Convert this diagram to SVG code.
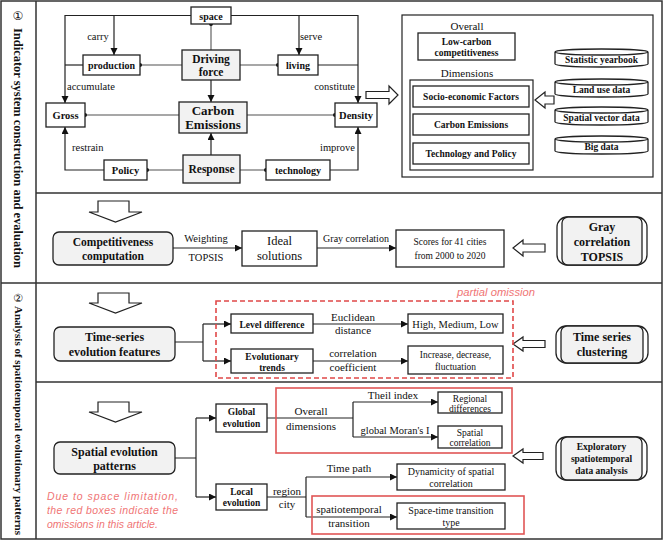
<svg xmlns="http://www.w3.org/2000/svg" width="663" height="540" viewBox="0 0 663 540">
<defs>
<style>
text{font-family:"Liberation Serif","Times New Roman",serif;fill:#111;text-anchor:middle}
.b{font-weight:bold}
.frame{fill:none;stroke:#333;stroke-width:1.5}
.box{fill:#fff;stroke:#222;stroke-width:1.3}
.gbox{fill:#f2f2f2;stroke:#222;stroke-width:1.3}
.ln{fill:none;stroke:#222;stroke-width:1.2}
.gln{fill:none;stroke:#8a8a8a;stroke-width:1.6}
.arr{marker-end:url(#ah)}
.hol{fill:#fff;stroke:#222;stroke-width:1.2}
.red{fill:none;stroke:#e05555;stroke-width:1.6}
.dash{fill:none;stroke:#e04848;stroke-width:1.6;stroke-dasharray:5 3}
.note{font-family:"Liberation Sans",Arial,sans-serif;font-style:italic;fill:#f07575;text-anchor:start}
.dot{fill:#111}
</style>
<marker id="ah" markerUnits="userSpaceOnUse" markerWidth="8" markerHeight="8" refX="7" refY="3.5" orient="auto">
<path d="M0,0 L7,3.5 L0,7 z" fill="#111"/>
</marker>
</defs>
<rect width="663" height="540" fill="#fff"/>
<g id="frame">
<rect class="frame" x="1" y="1" width="661" height="538"/>
<path class="frame" d="M36,1 V539 M36,193 H662 M1,283 H662 M36,382 H662"/>
<text x="18" y="20" style="font-family:'DejaVu Sans',sans-serif" font-size="12">①</text>
<text class="b" transform="translate(13.5,28) rotate(90)" font-size="12.5" style="text-anchor:start" textLength="240" lengthAdjust="spacingAndGlyphs">Indicator system construction and evaluation</text>
<text x="18" y="302" style="font-family:'DejaVu Sans',sans-serif" font-size="11">②</text>
<text class="b" transform="translate(14.5,306) rotate(90)" font-size="10.5" style="text-anchor:start" textLength="229" lengthAdjust="spacingAndGlyphs">Analysis of spatiotemporal evolutionary patterns</text>
</g>
<g id="connectors">
<path class="ln arr" d="M191,15.5 H65 V103"/>
<path class="ln" d="M83,65 H65"/>
<path class="ln arr" d="M114,15.5 V55"/>
<path class="ln arr" d="M231,15.5 H358 V103"/>
<path class="ln arr" d="M299,15.5 V55"/>
<path class="ln" d="M318,65 H358"/>
<path class="gln" d="M182,65 H140 M240,65 H278 M211,24 V50 M179,115 H85 M247,115 H335 M183,170 H147 M240,170 H266"/>
<circle class="dot" cx="140" cy="65" r="2"/><circle class="dot" cx="278" cy="65" r="2"/><circle class="dot" cx="211" cy="24" r="2"/>
<circle class="dot" cx="85" cy="115" r="2"/><circle class="dot" cx="335" cy="115" r="2"/><circle class="dot" cx="147" cy="170" r="2"/><circle class="dot" cx="266" cy="170" r="2"/>
<path class="ln arr" d="M211,80 V102"/>
<path class="ln arr" d="M211,155 V133"/>
<path class="ln arr" d="M104,170 H65 V127"/>
<path class="ln arr" d="M330,170 H358 V127"/>
<polygon class="hol" points="366,91.5 389,91.5 389,86 398,95 389,104 389,98.5 366,98.5"/>
<polygon class="hol" points="535,100 545,92 545,96 554,96 554,104 545,104 545,108"/>
<polygon class="hol" points="98,201 129,201 129,212 142,212 115.5,222 89,212 98,212"/>
<path class="ln arr" d="M173,248 H242"/>
<path class="ln arr" d="M317,248 H396"/>
<polygon class="hol" points="513,248 523,240 523,244 545,244 545,252 523,252 523,256"/>
<polygon class="hol" points="98,293 129,293 129,303 142,303 115.5,313 89,303 98,303"/>
<path class="ln" d="M175,342 H203 M203,324 V361"/>
<path class="ln arr" d="M203,324 H231"/>
<path class="ln arr" d="M203,361 H231"/>
<path class="ln arr" d="M313,324 H408"/>
<path class="ln arr" d="M313,361 H408"/>
<polygon class="hol" points="513,344 523,337 523,340.5 545,340.5 545,347.5 523,347.5 523,351"/>
<polygon class="hol" points="98,402 129,402 129,412 142,412 115.5,422 89,412 98,412"/>
<path class="ln" d="M175,458 H196 M196,418 V497"/>
<path class="ln arr" d="M196,418 H216"/>
<path class="ln arr" d="M196,497 H216"/>
<path class="ln" d="M267,418 H353 M353,402 V437"/>
<path class="ln arr" d="M353,402 H438"/>
<path class="ln arr" d="M353,437 H438"/>
<path class="ln" d="M267,497 H306 M306,477 V517"/>
<path class="ln arr" d="M306,477 H397"/>
<path class="ln arr" d="M306,517 H397"/>
<polygon class="hol" points="513,456 523,449 523,452.5 543,452.5 543,459.5 523,459.5 523,463"/>
</g>
<g id="edge-labels" font-size="10.5">
<text x="98" y="40">carry</text>
<text x="311" y="40">serve</text>
<text x="67" y="90" style="text-anchor:start">accumulate</text>
<text x="355" y="90" style="text-anchor:end">constitute</text>
<text x="72" y="151" style="text-anchor:start">restrain</text>
<text x="355" y="151" style="text-anchor:end">improve</text>
<text x="206" y="242">Weighting</text>
<text x="206" y="261">TOPSIS</text>
<text x="356" y="242" font-size="10">Gray correlation</text>
<text x="353" y="321" font-size="11">Euclidean</text>
<text x="353" y="334" font-size="11">distance</text>
<text x="353" y="357" font-size="11">correlation</text>
<text x="353" y="371" font-size="11">coefficient</text>
<text x="311" y="415" font-size="11">Overall</text>
<text x="311" y="430" font-size="11">dimensions</text>
<text x="393" y="399" font-size="11">Theil index</text>
<text x="395" y="434" font-size="10.5">global Moran's I</text>
<text x="287" y="495" font-size="11">region</text>
<text x="287" y="508" font-size="11">city</text>
<text x="349" y="472" font-size="11">Time path</text>
<text x="349" y="513" font-size="11">spatiotemporal</text>
<text x="349" y="527" font-size="11">transition</text>
</g>
<g id="n-space"><rect class="box" x="191" y="7" width="40" height="17"/><text class="b" x="211" y="19.5" font-size="10">space</text></g>
<g id="n-production"><rect class="box" x="83" y="55" width="57" height="20"/><text class="b" x="111.5" y="69" font-size="10">production</text></g>
<g id="n-living"><rect class="box" x="278" y="55" width="40" height="20"/><text class="b" x="298" y="69" font-size="10">living</text></g>
<g id="n-driving"><rect class="gbox" x="182" y="50" width="58" height="30"/><text class="b" x="211" y="63" font-size="11.5">Driving</text><text class="b" x="211" y="76" font-size="11.5">force</text></g>
<g id="n-carbon"><rect class="gbox" x="179" y="102" width="68" height="31"/><text class="b" x="213" y="115" font-size="13">Carbon</text><text class="b" x="213" y="129" font-size="13">Emissions</text></g>
<g id="n-gross"><rect class="box" x="46" y="103" width="39" height="24"/><text class="b" x="65.5" y="119" font-size="10.5">Gross</text></g>
<g id="n-density"><rect class="box" x="335" y="103" width="42" height="24"/><text class="b" x="356" y="119" font-size="10.5">Density</text></g>
<g id="n-policy"><rect class="box" x="104" y="160" width="43" height="20"/><text class="b" x="125.5" y="174" font-size="10.5">Policy</text></g>
<g id="n-response"><rect class="gbox" x="183" y="155" width="57" height="28"/><text class="b" x="211.5" y="173" font-size="11.5">Response</text></g>
<g id="n-technology"><rect class="box" x="266" y="160" width="64" height="20"/><text class="b" x="298" y="174" font-size="10">technology</text></g>
<g id="n-indicator-panel">
<rect class="ln" x="402" y="15" width="251" height="162"/>
<text x="467" y="30" font-size="11">Overall</text>
<rect class="box" x="418" y="33" width="97" height="27"/>
<text class="b" x="466.5" y="44.5" font-size="9.5">Low-carbon</text>
<text class="b" x="466.5" y="56" font-size="9.5">competitiveness</text>
<text x="467" y="77" font-size="11">Dimensions</text>
<rect class="ln" x="410" y="80" width="123" height="90"/>
<rect class="box" x="413" y="86" width="116" height="21"/><text class="b" x="471" y="100" font-size="9.5">Socio-economic Factors</text>
<rect class="box" x="413" y="114" width="116" height="21"/><text class="b" x="471" y="128" font-size="9.5">Carbon Emissions</text>
<rect class="box" x="413" y="143" width="116" height="21"/><text class="b" x="471" y="157" font-size="9.5">Technology and Policy</text>
</g>
<g id="n-data-sources">
<path class="box" d="M555,52 A46.5,3 0 0 1 648,52 V64 A46.5,3 0 0 1 555,64 Z M555,52 A46.5,3 0 0 0 648,52"/>
<text class="b" x="601.5" y="62.5" font-size="9.5">Statistic yearbook</text>
<path class="box" d="M555,82 A46.5,3 0 0 1 648,82 V94 A46.5,3 0 0 1 555,94 Z M555,82 A46.5,3 0 0 0 648,82"/>
<text class="b" x="601.5" y="92.5" font-size="9.5">Land use data</text>
<path class="box" d="M555,110 A46.5,3 0 0 1 648,110 V122 A46.5,3 0 0 1 555,122 Z M555,110 A46.5,3 0 0 0 648,110"/>
<text class="b" x="601.5" y="120.5" font-size="9.5">Spatial vector data</text>
<path class="box" d="M555,139 A46.5,3 0 0 1 648,139 V151 A46.5,3 0 0 1 555,151 Z M555,139 A46.5,3 0 0 0 648,139"/>
<text class="b" x="601.5" y="149.5" font-size="9.5">Big data</text>
</g>
<g id="n-competitiveness"><rect class="gbox" x="53" y="232" width="120" height="33" rx="6"/><text class="b" x="113" y="246" font-size="11.5">Competitiveness</text><text class="b" x="113" y="260" font-size="11.5">computation</text></g>
<g id="n-ideal"><rect class="box" x="242" y="231" width="75" height="35"/><text x="279.5" y="245" font-size="12.5">Ideal</text><text x="279.5" y="260" font-size="12.5">solutions</text></g>
<g id="n-scores"><rect class="box" x="396" y="230" width="108" height="37"/><text x="450" y="245" font-size="9.5">Scores for 41 cities</text><text x="450" y="259" font-size="9.5">from 2000 to 2020</text></g>
<g id="n-gray-topsis"><rect class="box" x="557" y="217" width="90" height="48" rx="10"/><rect class="gbox" x="562" y="217" width="80" height="48" rx="6"/><text class="b" x="602" y="231" font-size="12">Gray</text><text class="b" x="602" y="246" font-size="12">correlation</text><text class="b" x="602" y="261" font-size="12">TOPSIS</text></g>
<g id="n-partial-omission"><rect class="dash" x="216" y="301" width="297" height="77"/><text class="note" x="457" y="296" font-size="10.5" textLength="78" lengthAdjust="spacingAndGlyphs">partial omission</text></g>
<g id="n-timeseries"><rect class="gbox" x="54" y="327" width="121" height="34" rx="6"/><text class="b" x="114.5" y="341" font-size="12">Time-series</text><text class="b" x="114.5" y="356" font-size="12">evolution features</text></g>
<g id="n-level"><rect class="box" x="231" y="314" width="82" height="19"/><text class="b" x="272" y="327.5" font-size="9.5">Level difference</text></g>
<g id="n-hml"><rect class="box" x="408" y="314" width="95" height="19"/><text x="455.5" y="328" font-size="10.5">High, Medium, Low</text></g>
<g id="n-trends"><rect class="box" x="231" y="349" width="82" height="24"/><text class="b" x="272" y="359.5" font-size="9.5">Evolutionary</text><text class="b" x="272" y="370.5" font-size="9.5">trends</text></g>
<g id="n-increase"><rect class="box" x="408" y="346" width="95" height="28"/><text x="455.5" y="358" font-size="9.5">Increase, decrease,</text><text x="455.5" y="370" font-size="9.5">fluctuation</text></g>
<g id="n-ts-clustering"><rect class="box" x="556" y="326" width="92" height="37" rx="10"/><rect class="gbox" x="561" y="326" width="82" height="37" rx="6"/><text class="b" x="602" y="341" font-size="12">Time series</text><text class="b" x="602" y="356" font-size="12">clustering</text></g>
<g id="n-spatial"><rect class="gbox" x="54" y="442" width="121" height="32" rx="6"/><text class="b" x="114.5" y="456" font-size="12">Spatial evolution</text><text class="b" x="114.5" y="470" font-size="12">patterns</text></g>
<g id="n-global"><rect class="box" x="216" y="404" width="51" height="28"/><text class="b" x="241.5" y="415" font-size="9.5">Global</text><text class="b" x="241.5" y="427" font-size="9.5">evolution</text></g>
<g id="n-red1"><rect class="red" x="276" y="388" width="236" height="65"/></g>
<g id="n-regional"><rect class="box" x="438" y="392" width="64" height="21"/><text x="470" y="401.5" font-size="9.5">Regional</text><text x="470" y="411.5" font-size="9.5">differences</text></g>
<g id="n-spcorr"><rect class="box" x="438" y="426" width="64" height="22"/><text x="470" y="435.5" font-size="9.5">Spatial</text><text x="470" y="446" font-size="9.5">correlation</text></g>
<g id="n-local"><rect class="box" x="216" y="484" width="51" height="26"/><text class="b" x="241.5" y="494.5" font-size="9.5">Local</text><text class="b" x="241.5" y="506" font-size="9.5">evolution</text></g>
<g id="n-dynamicity"><rect class="box" x="397" y="464" width="108" height="26"/><text x="451" y="475" font-size="10">Dynamicity of spatial</text><text x="451" y="487" font-size="10">correlation</text></g>
<g id="n-red2"><rect class="red" x="312" y="496" width="212" height="38"/></g>
<g id="n-spacetime"><rect class="box" x="397" y="503" width="108" height="26"/><text x="451" y="514" font-size="10">Space-time transition</text><text x="451" y="526" font-size="10">type</text></g>
<g id="n-esda"><rect class="box" x="556" y="437" width="91" height="43" rx="10"/><rect class="gbox" x="561" y="437" width="81" height="43" rx="6"/><text class="b" x="601.5" y="450" font-size="9.5">Exploratory</text><text class="b" x="601.5" y="462" font-size="9.5">spatiotemporal</text><text class="b" x="601.5" y="474" font-size="9.5">data analysis</text></g>
<g id="n-note">
<text class="note" x="47" y="500" font-size="10.5" textLength="131" lengthAdjust="spacing">Due to space limitation,</text>
<text class="note" x="47" y="514" font-size="10.5" textLength="131" lengthAdjust="spacing">the red boxes indicate the</text>
<text class="note" x="47" y="528" font-size="10.5">omissions in this article.</text>
</g>
</svg>
